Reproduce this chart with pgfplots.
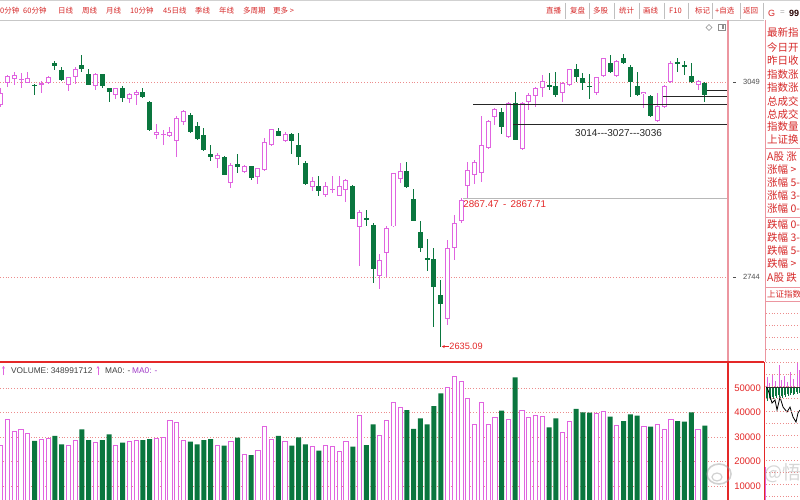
\documentclass[border=0pt]{standalone}
\usepackage{pgfplots}
\pgfplotsset{compat=1.18}
\usepackage{pgfplotstable}
\usepackage{fontspec}
\setmainfont{Liberation Sans}
\newfontfamily\cjk{Noto Sans CJK SC}
\usetikzlibrary{arrows.meta}

\definecolor{upc}{RGB}{224,100,224}
\definecolor{dnc}{RGB}{10,118,62}
\definecolor{tabred}{RGB}{214,40,40}
\definecolor{gridc}{RGB}{236,140,140}
\definecolor{framered}{RGB}{228,40,40}
\definecolor{framepink}{RGB}{236,150,160}
\definecolor{labgray}{RGB}{80,80,80}
\definecolor{ma2}{RGB}{160,60,200}

% daily candles closing above the open (index, open, high, low, close)
\pgfplotstableread{
i o h l c
0 3013 3040 3010 3031
1 3048 3060 3041 3059
2 3054 3065 3044 3060
3 3052 3063 3040 3054
4 3048 3064 3048 3055
6 3045 3050 3032 3048
7 3048 3058 3046 3057
10 3044 3057 3035 3056
11 3057 3072 3046 3069
14 3042 3063 3036 3062
17 3029 3040 3022 3039
19 3022 3031 3016 3030
20 3029 3036 3013 3034
23 2966 2984 2959 2971
24 2967 2974 2950 2968
25 2965 2979 2963 2971
26 2956 2995 2931 2992
27 2987 3005 2982 3004
32 2929 2938 2914 2934
34 2891 2922 2883 2919
36 2908 2919 2906 2918
38 2900 2914 2890 2914
39 2911 2961 2910 2955
40 2950 2976 2949 2975
42 2957 2970 2955 2968
46 2885 2900 2879 2894
48 2872 2893 2869 2886
49 2880 2902 2876 2882
50 2871 2902 2870 2886
51 2880 2897 2862 2895
53 2822 2849 2761 2846
56 2746 2780 2725 2771
57 2781 2824 2744 2821
58 2823 2907 2822 2906
59 2897 2923 2891 2910
66 2678 2802 2669 2789
67 2789 2841 2771 2829
68 2831 2867.47 2829 2865
69 2886 2924 2867.71 2911
70 2904 2927 2889 2924
71 2906 2995 2893 2950
72 2945 2990 2944 2988
73 2994 3008 2982 3006
75 2963 3018 2962 3016
77 2944 3018 2943 3016
78 3017 3031 3005 3029
79 3027 3041 3010 3040
80 3039 3060 3026 3051
83 3032 3049 3018 3048
84 3044 3070 3042 3069
88 3032 3057 3029 3056
89 3058 3087 3057 3086
91 3058 3083 3057 3082
95 3030 3034 3008 3034
97 2988 3031 2987 3011
98 3010 3044 3009 3043
99 3049 3081 3048 3079
103 3044 3052 3036 3050
}\upk

% daily candles closing below the open
\pgfplotstableread{
i o h l c
5 3045 3046 3029 3042
8 3078 3082 3068 3074
9 3068 3073 3051 3052
12 3075 3091 3065 3069
13 3061 3069 3044 3045
15 3061 3062 3040 3042
16 3039 3040 3017 3034
18 3039 3042 3018 3024
21 3034 3040 3024 3025
22 3018 3019 2973 2974
28 2998 3000 2969 2970
29 2980 2987 2959 2960
30 2966 2977 2941 2943
31 2936 2950 2926 2931
33 2932 2933 2903 2904
35 2920 2937 2907 2916
37 2917 2918 2895 2899
41 2973 2977 2964 2965
43 2967 2969 2937 2956
44 2950 2969 2919 2931
45 2923 2925 2888 2889
47 2886 2902 2870 2879
52 2886 2888 2834 2835
54 2837 2849 2824 2833
55 2826 2828 2735 2756
60 2910 2924 2883 2884
61 2866 2881 2831 2832
62 2815 2832 2783 2789
63 2773 2804 2753 2771
64 2772 2789 2666 2729
65 2716 2739 2635.09 2702
74 3002 3008 2968 2978
76 3016 3034 2959 2959
81 3044 3063 3036 3042
82 3042 3065 3026 3029
85 3069 3077 3049 3057
86 3055 3063 3036 3047
87 3043 3061 3023 3041
90 3079 3091 3063 3065
92 3086 3093 3077 3079
93 3072 3076 3026 3049
94 3042 3065 3027 3029
96 3027 3028 2994 2996
100 3080 3086 3065 3078
101 3076 3081 3060 3072
102 3058 3078 3047 3049
104 3048 3049 3017 3029
}\dnk

% traded volume on up days
\pgfplotstableread{
i v
0 26730
1 37220
2 32450
3 33270
4 31510
6 29060
7 29470
10 26730
11 28770
14 27680
17 26730
19 28100
20 28500
23 29470
24 29710
25 36940
26 36000
27 28770
32 26450
34 28100
36 22930
38 24690
39 34210
40 29060
42 28370
46 26330
48 26730
49 26330
50 24290
51 28370
53 38980
56 30820
57 36940
58 44000
59 41960
66 50270
67 54620
68 52860
69 45790
70 35160
71 44160
72 35160
73 37880
75 37220
77 40740
78 38020
79 38690
80 38290
83 31920
84 36260
88 39660
89 40610
91 34900
95 34490
97 35300
98 33270
99 37350
103 33270
}\volup

% traded volume on down days
\pgfplotstableread{
i v
5 28370
8 30410
9 27020
12 33130
13 28770
15 28770
16 31100
18 27680
21 28770
22 29180
28 28100
29 27020
30 28770
31 29180
33 26450
35 29710
37 22650
41 30410
43 26450
44 29880
45 27020
47 24410
52 26050
54 26730
55 35160
60 41020
61 33270
62 37630
63 35160
64 42650
65 47840
74 40740
76 54360
81 33950
82 37630
85 41430
86 40070
87 39930
90 38290
92 36530
93 39250
94 38690
96 34210
100 36530
101 36260
102 40070
104 34620
}\voldn

% small intraday panel: buy and sell strokes
\pgfplotstableread{
x a b
766 387 399
767.5 387 401
769 387 398
770.5 387 400
772 387 397
773.5 387 399
775 387 396
776.5 387 398
778 387 395
779.5 387 397
781 387 396
782.5 387 398
784 387 395
785.5 387 397
787 387 394
788.5 387 396
790 387 395
791.5 387 393
793 387 395
794.5 387 394
796 387 392
797.5 387 394
799 387 393
}\minidn
\pgfplotstableread{
x a b
767 387 377
769 387 383
772 387 374
775 387 381
779 387 365
781 387 380
784 387 376
787 387 382
790 387 372
793 387 379
797 387 362
799 387 370
}\miniup

\pgfplotsset{
  candleaxis/.style={scale only axis, anchor=south west, width=727pt,
    xmin=-0.103, xmax=107.28, axis line style={draw=none}, xtick=\empty,
    yticklabels={}, scaled y ticks=false, major tick length=0pt, tick style={draw=none},
    ymajorgrids, major grid style={gridc, line width=0.7pt, dash pattern=on 0.8pt off 2pt}},
  segs/.style 2 args={draw=none, mark=none, forget plot,
    error bars/.cd, y dir=both, y explicit, error mark=none,
    error bar style={draw=#1, line width=#2, line cap=butt}},
}

\begin{document}
\begin{tikzpicture}
\path[use as bounding box] (0pt,0pt) rectangle (800pt,-500pt);
\clip (0pt,0pt) rectangle (800pt,-500pt);
\fill[white] (0pt,0pt) rectangle (800pt,-500pt);

% ---------- price panel ----------
\begin{axis}[candleaxis, at={(0pt,-362pt)}, height=342pt,
  ymin=2611, ymax=3145.9, ytick={2744,3049}]
\addplot[segs={upc}{1pt}] table[x=i, y expr={(\thisrow{h}+\thisrow{l})/2},
  y error expr={(\thisrow{h}-\thisrow{l})/2}] {\upk};
\addplot[segs={dnc}{1pt}] table[x=i, y expr={(\thisrow{h}+\thisrow{l})/2},
  y error expr={(\thisrow{h}-\thisrow{l})/2}] {\dnk};
\addplot[segs={upc}{5pt}] table[x=i, y expr={(\thisrow{o}+\thisrow{c})/2},
  y error expr={max(abs(\thisrow{c}-\thisrow{o})/2,0.8)}] {\upk};
\addplot[segs={white}{3pt}] table[x=i, y expr={(\thisrow{o}+\thisrow{c})/2},
  y error expr={max(abs(\thisrow{c}-\thisrow{o})/2-1.5,0)}] {\upk};
\addplot[segs={dnc}{5pt}] table[x=i, y expr={(\thisrow{o}+\thisrow{c})/2},
  y error expr={max(abs(\thisrow{c}-\thisrow{o})/2,0.8)}] {\dnk};
% gap and support lines
\addplot[black!28, line width=0.8pt, forget plot] coordinates {(68.3,2867.5) (107.3,2867.5)};
\addplot[black!85, line width=0.9pt, forget plot] coordinates {(69.8,3014) (107.3,3014)};
\addplot[black!85, line width=0.9pt, forget plot] coordinates {(75.7,2982) (107.3,2982)};
\addplot[black!85, line width=0.9pt, forget plot] coordinates {(97.8,3027) (107.3,3027)};
\addplot[black!85, line width=0.9pt, forget plot] coordinates {(104.3,3036) (107.3,3036)};
\coordinate (lowpt) at (axis cs:65,2635.09);
\coordinate (gappt) at (axis cs:68.3,2867.47);
\end{axis}

% ---------- volume panel ----------
\begin{axis}[candleaxis, at={(0pt,-500pt)}, height=138pt,
  ymin=4282, ymax=60613, ytick={10000,20000,30000,40000,50000}]
\addplot[ybar, bar width=4.2pt, bar shift=0pt, draw=upc, fill=white, line width=0.9pt]
  table[x=i, y=v] {\volup};
\addplot[ybar, bar width=5pt, bar shift=0pt, draw=none, fill=dnc]
  table[x=i, y=v] {\voldn};
\end{axis}

% ---------- small intraday panel ----------
\begin{axis}[at={(764pt,-500pt)}, anchor=south west, scale only axis,
  width=36pt, height=138pt, xmin=764, xmax=800, ymin=362, ymax=500,
  y dir=reverse, hide axis]
\addplot[segs={dnc}{0.7pt}] table[x=x, y expr={(\thisrow{a}+\thisrow{b})/2},
  y error expr={abs(\thisrow{b}-\thisrow{a})/2}] {\minidn};
\addplot[segs={upc}{0.8pt}] table[x=x, y expr={(\thisrow{a}+\thisrow{b})/2},
  y error expr={abs(\thisrow{b}-\thisrow{a})/2}] {\miniup};
\addplot[black!80, line width=0.6pt, forget plot] coordinates {(766,387) (800,387)};
\addplot[black, line width=0.8pt, forget plot] coordinates {(766,386) (768,390) (770,396)
  (772,403) (775,400) (777,410) (780,397) (783,407) (787,412) (790,407) (793,417)
  (796,422) (798,413) (800,410)};
\addplot[segs={upc}{2pt}] coordinates {(765.2,483.5) +- (0,16.5)};
\end{axis}

\begin{scope}[x=1pt, y=-1pt]
% top strip and toolbar
\fill[black!18] (0,0) rectangle (800,1.5);
\draw[black!22, line width=0.6pt] (0,20) -- (764,20);
\tikzset{tab/.style={anchor=west, inner sep=0pt, text=tabred,
  font=\cjk\fontsize{7.5}{9}\selectfont}}
\foreach \x/\t in {0/0分钟, 23/60分钟, 58/日线, 82/周线, 106/月线, 130/10分钟,
  163/45日线, 195/季线, 219/年线, 243/多周期, 273/更多 >}
  \node[tab] at (\x,11) {\t};
\foreach \x/\t in {546/直播, 570/复盘, 593/多股, 619/统计, 643/画线, 669/F10,
  695/标记, 715/+自选, 743/返回}
  \node[tab] at (\x,11) {\t};
\foreach \x in {565,589,614,639,664,688,712,740,763}
  \draw[black!25, line width=0.5pt] (\x,3) -- (\x,19);
\node[anchor=west, inner sep=0pt, text=tabred, font=\fontsize{9}{10}\selectfont] at (768,13) {G};
\node[anchor=west, inner sep=0pt, text=black!35, font=\fontsize{8}{9}\selectfont] at (780,13) {=};
\node[anchor=west, inner sep=0pt, text=black!85!red, font=\bfseries\fontsize{9}{10}\selectfont] at (789,13) {99};
% small view icons
\draw[black!45, line width=0.5pt] (709,24.5) -- (712,27.5) -- (709,30.5) -- (706,27.5) -- cycle;
\draw[black!45, line width=0.5pt] (718,24.5) rectangle (725,30.5);
\fill[black!45] (721.5,25.5) rectangle (724,29.5);

% frame lines
\draw[framepink, line width=1.2pt] (728,20) -- (728,362);
\draw[framepink, line width=1pt] (765,20) -- (765,362);
\draw[framered, line width=1.2pt] (728,362) -- (728,500);
\draw[framered, line width=1pt] (764,362) -- (764,500);
\draw[framered, line width=1.2pt] (0,362) -- (764,362);

% price scale
\foreach \y/\t in {82/3049, 277/2744} {
  \draw[labgray, line width=0.6pt] (733,\y) -- (736,\y);
  \node[anchor=east, inner sep=0pt, text=labgray, font=\fontsize{7.5}{9}\selectfont] at (760,\y) {\t};
}
% volume scale
\foreach \y/\t in {388/50000, 412.5/40000, 437/30000, 461.5/20000, 486/10000}
  \node[anchor=east, inner sep=0pt, text=framered, font=\fontsize{9.5}{11}\selectfont] at (761,\y) {\t};

% volume caption
\draw[upc, line width=0.8pt, -{Stealth[length=2.6pt,width=3pt]}] (3.5,375) -- (3.5,366);
\node[anchor=west, inner sep=0pt, text=black!75, font=\fontsize{8.3}{10}\selectfont] at (11,371) {VOLUME: 348991712};
\draw[upc, line width=0.8pt, -{Stealth[length=2.6pt,width=3pt]}] (98,375) -- (98,366);
\node[anchor=west, inner sep=0pt, text=black!75, font=\fontsize{8.3}{10}\selectfont] at (105,371) {MA0: -};
\node[anchor=west, inner sep=0pt, text=ma2, font=\fontsize{8.3}{10}\selectfont] at (132,371) {MA0: -};

% right information column
\tikzset{info/.style={anchor=west, inner sep=0pt, text=tabred,
  font=\cjk\fontsize{10.5}{12}\selectfont}}
\foreach \y/\t in {32/最新指, 47/今日开, 61/昨日收, 75/指数涨, 88/指数涨,
  101/总成交, 114/总成交, 127/指数量, 140/上证换, 157/A股 涨, 170/涨幅 >,
  183/涨幅 5-, 196/涨幅 3-, 209/涨幅 0-, 225/跌幅 0-, 238/跌幅 3-,
  251/跌幅 5-, 264/跌幅 >, 278/A股 跌}
  \node[info] at (767,\y) {\t};
\node[anchor=west, inner sep=0pt, text=tabred, font=\cjk\fontsize{8.5}{10}\selectfont] at (767,294) {上证指数};
\foreach \y in {148,217,287,301}
  \draw[framepink, line width=0.7pt] (765,\y) -- (800,\y);
\foreach \k in {0,...,15}
  \draw[gridc, line width=0.6pt, dash pattern=on 0.8pt off 2pt] (766,313+12.25*\k) -- (800,313+12.25*\k);
\end{scope}

% annotations tied to the price axis
\draw[framered, line width=0.7pt, -{Stealth[length=3pt,width=3pt]}] ([xshift=8pt]lowpt) -- ([xshift=1pt]lowpt);
\node[anchor=west, inner sep=0pt, text=framered, font=\fontsize{9.2}{10}\selectfont] at ([xshift=8.5pt]lowpt) {2635.09};
\node[anchor=west, inner sep=0pt, text=framered, font=\fontsize{9.8}{11}\selectfont] at ([yshift=-6pt]gappt) {2867.47\,\ -\ \,2867.71};
\node[anchor=west, inner sep=0pt, text=black!85, font=\fontsize{10}{12}\selectfont] at (575pt,-133pt) {3014-{}-{}-3027-{}-{}-3036};

% watermark
\begin{scope}[x=1pt, y=-1pt, opacity=0.45]
\draw[black!40, line width=1.6pt] (719,474) ellipse (12 and 10);
\draw[black!40, line width=1.2pt] (717,477) ellipse (5 and 4);
\node[anchor=west, inner sep=0pt, text=black!35, font=\cjk\fontsize{19}{22}\selectfont] at (764,473) {@悟};
\end{scope}
\end{tikzpicture}
\end{document}
